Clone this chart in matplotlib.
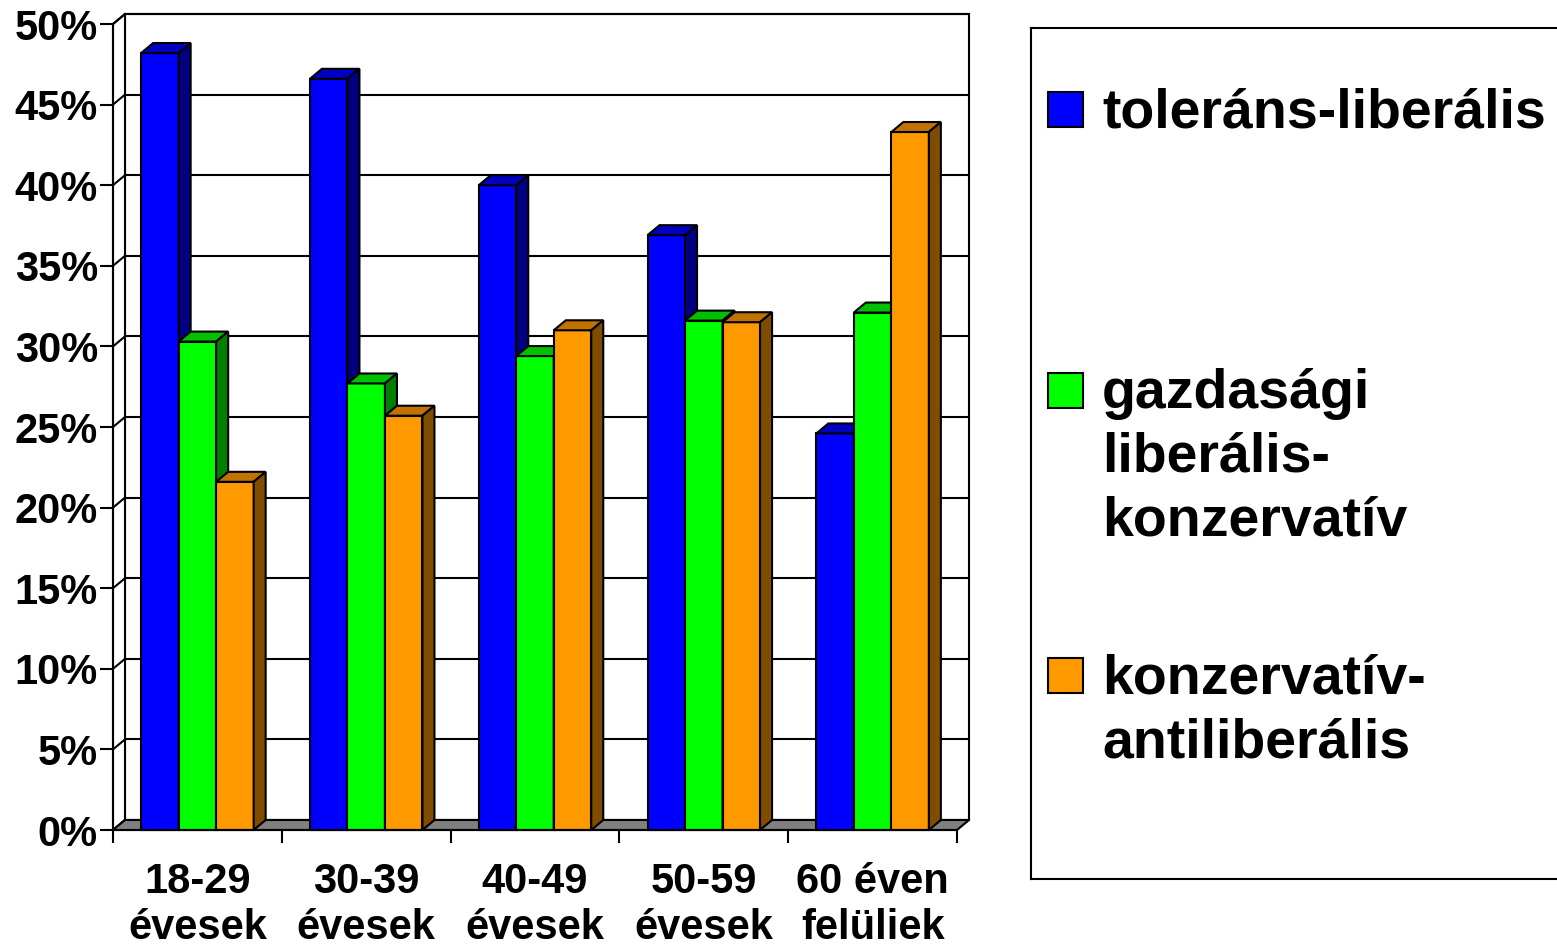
"""3D-style grouped columns: liberal/conservative attitude groups by age band."""

import matplotlib
matplotlib.use("Agg")
import matplotlib.pyplot as plt
from matplotlib.patches import Polygon, Rectangle

categories = ["18-29\névesek", "30-39\névesek", "40-49\névesek",
              "50-59\névesek", "60 éven\nfelüliek"]
series_labels = ["toleráns-liberális",
                 "gazdasági\nliberális-\nkonzervatív",
                 "konzervatív-\nantiliberális"]
tolerans = [48.2, 46.6, 40.0, 36.9, 24.6]
gazdasagi = [30.3, 27.7, 29.4, 31.6, 32.1]
konzervativ = [21.6, 25.7, 31.0, 31.5, 43.3]
yticks = [0, 5, 10, 15, 20, 25, 30, 35, 40, 45, 50]

series = [tolerans, gazdasagi, konzervativ]
front_col = ["#0000ff", "#00ff00", "#ff9900"]
top_col = ["#0000c0", "#00c000", "#c07300"]
side_col = ["#000080", "#008000", "#804d00"]

plt.rcParams["font.family"] = ["Liberation Sans", "DejaVu Sans"]
plt.rcParams["font.weight"] = "bold"

W, H = 1557, 947
fig = plt.figure(figsize=(W / 100, H / 100), dpi=100)
# front plane of the plot: x 113..957 px, y 830 (0%) .. 24 (50%)
ax = fig.add_axes([113 / W, (H - 830) / H, 844 / W, 806 / H])
ax.set_xlim(0, len(categories))
ax.set_ylim(0, 50)

n_cat = len(categories)
ymax = yticks[-1]
DX = 12 / 168.8   # depth offset in category units
DY = 0.62         # depth offset in percent units
LW = 1.5

# walls and floor
ax.add_patch(Polygon([(DX, DY), (n_cat + DX, DY), (n_cat + DX, ymax + DY), (DX, ymax + DY)],
                     facecolor="white", edgecolor="black", lw=LW, clip_on=False, zorder=1))
ax.add_patch(Polygon([(0, 0), (DX, DY), (DX, ymax + DY), (0, ymax)],
                     facecolor="white", edgecolor="black", lw=LW, clip_on=False, zorder=1))
for v in yticks:
    ax.plot([DX, n_cat + DX], [v + DY, v + DY], color="black", lw=LW, clip_on=False, zorder=2)
    ax.plot([0, DX], [v, v + DY], color="black", lw=LW, clip_on=False, zorder=2)
ax.add_patch(Polygon([(0, 0), (n_cat, 0), (n_cat + DX, DY), (DX, DY)],
                     facecolor="#808080", edgecolor="black", lw=LW, clip_on=False, zorder=3))

# bars
bw = 0.2222
start = (1 - 3 * bw) / 2
z = 4
for i in range(n_cat):
    for j, vals in enumerate(series):
        h = vals[i]
        x0 = i + start + j * bw
        x1 = x0 + bw
        ax.add_patch(Rectangle((x0, 0), bw, h, facecolor=front_col[j], edgecolor="black",
                               lw=LW, clip_on=False, zorder=z))
        ax.add_patch(Polygon([(x0, h), (x1, h), (x1 + DX, h + DY), (x0 + DX, h + DY)],
                             facecolor=top_col[j], edgecolor="black", lw=LW,
                             clip_on=False, zorder=z))
        ax.add_patch(Polygon([(x1, 0), (x1 + DX, DY), (x1 + DX, h + DY), (x1, h)],
                             facecolor=side_col[j], edgecolor="black", lw=LW,
                             clip_on=False, zorder=z))
        z += 1

ax.patch.set_visible(False)
for s in ["top", "right"]:
    ax.spines[s].set_visible(False)
for s in ["left", "bottom"]:
    ax.spines[s].set_linewidth(LW)
    ax.spines[s].set_zorder(50)

ax.set_yticks(yticks)
ax.set_yticklabels([f"{v}%" for v in yticks], fontsize=30, fontweight="bold")
ax.tick_params(axis="y", length=9.4, width=LW, pad=1.5)
ax.set_xticks([i + 0.5 for i in range(n_cat)])
ax.set_xticklabels(categories, fontsize=30, fontweight="bold", linespacing=1.2)
ax.set_xticks(range(n_cat + 1), minor=True)
ax.tick_params(axis="x", which="major", length=0, pad=23)
ax.tick_params(axis="x", which="minor", length=9.4, width=LW)

# legend box
lax = fig.add_axes([1031 / W, (H - 879) / H, 700 / W, 851 / H])
lax.set_xlim(0, 700)
lax.set_ylim(851, 0)
lax.set_xticks([])
lax.set_yticks([])
for s in lax.spines.values():
    s.set_linewidth(LW)
marker_top = [64, 345, 630]
line_step = 64
for j, lab in enumerate(series_labels):
    lax.add_patch(Rectangle((17, marker_top[j]), 35, 35, facecolor=front_col[j],
                            edgecolor="black", lw=LW))
    for k, line in enumerate(lab.split("\n")):
        lax.text(71, marker_top[j] + 35 + k * line_step, line, fontsize=40,
                 fontweight="bold", ha="left", va="baseline")

fig.savefig("out.png", dpi=100, facecolor="white")
